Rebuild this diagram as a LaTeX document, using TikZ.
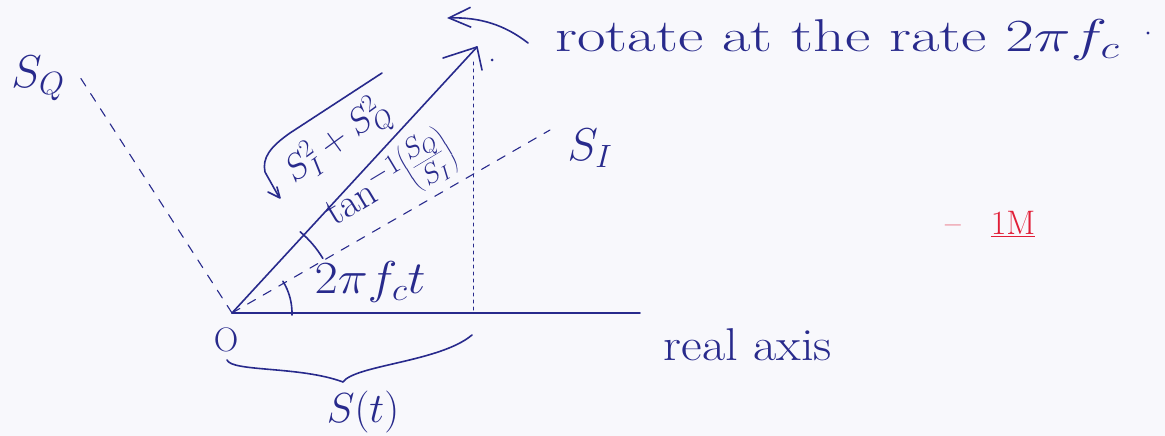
\RequirePackage{fix-cm}
\documentclass[tikz,border=0pt]{standalone}
\usepackage{graphicx}
\usetikzlibrary{arrows.meta,calc}
\definecolor{ink}{RGB}{40,42,140}
\definecolor{redink}{RGB}{225,30,55}
\definecolor{paper}{RGB}{248,248,252}
\begin{document}
\begin{tikzpicture}[x=1pt,y=1pt, line cap=round, line join=round,
  pen/.style={draw=ink, line width=1.6pt},
  dashline/.style={draw=ink, line width=1.1pt, dash pattern=on 9pt off 9pt},
  dotline/.style={draw=ink, line width=1pt, dash pattern=on 3pt off 4pt},
  lbl/.style={text=ink, inner sep=0pt},
  big/.style={font=\fontsize{46}{50}\selectfont},
  mid/.style={font=\fontsize{36}{40}\selectfont}]
\fill[paper] (0,0) rectangle (1165,-436);
\useasboundingbox (0,0) rectangle (1165,-436);
% key points
\coordinate (O) at (232,-313);
\coordinate (tip) at (477,-47);
\coordinate (barbA) at (443,-58);
\coordinate (barbB) at (482,-70);
\coordinate (xend) at (640,-313);
\coordinate (foot) at (473,-313);
\coordinate (top) at (473,-62);
\coordinate (siend) at (550,-130);
\coordinate (sqend) at (78,-74);
\coordinate (rotA) at (528,-43);
\coordinate (rotB) at (447,-18);
% axes and vector
\draw[pen] (O) -- (xend);
\draw[pen] (O) -- (tip);
\draw[pen] (barbA) -- (tip) -- (barbB);
\fill[ink] (492,-60) circle (1.5pt);
\draw[dotline] (top) -- (foot);
\draw[dashline] (O) -- (siend);
\draw[dashline] (O) -- (sqend);
% angle arcs
\draw[pen] ([shift={(32:60)}]O) arc[start angle=32, end angle=-2, radius=60];
\draw[pen] ([shift={(50:106)}]O) arc[start angle=50, end angle=31, radius=106];
% rotation arrow
\draw[pen, -{Straight Barb[length=22pt,width=20pt]}] (rotA) .. controls (505,-25) and (480,-17) .. (rotB);
% radical sign
\draw[pen] (382,-73) -- (290,-133) .. controls (270,-147) and (262,-158) .. (265,-172) -- (279,-197);
\draw[pen] (268,-192) -- (280,-198) -- (277,-187);
% brace
\draw[pen] (227,-360) .. controls (232,-372) and (300,-366) .. (343,-382)
  .. controls (355,-365) and (440,-362) .. (472,-335);
% labels
\node[lbl, anchor=west, big] (rot) at (555,-40) {\scalebox{1.35}[1]{rotate at the rate $2\pi f_c$}};
\fill[ink] (1148,-33) circle (1.6pt);
\node[lbl, big] (sq) at (38,-78) {$S_Q$};
\node[lbl, big] (si) at (590,-148) {$S_I$};
\node[lbl, mid, rotate=36] (mag) at (338,-142) {$S_I^2+S_Q^2$};
\node[lbl, font=\fontsize{40}{44}\selectfont, rotate=31] (ph) at (390,-182) {$\tan^{-1}\!\left(\frac{S_Q}{S_I}\right)$};
\node[lbl, big] (wt) at (370,-282) {\scalebox{1.1}[1]{$2\pi f_c t$}};
\node[lbl, font=\fontsize{34}{36}\selectfont] (o) at (226,-340) {O};
\node[lbl, font=\fontsize{42}{46}\selectfont] (st) at (363,-412) {$S(t)$};
\node[lbl, big] (ra) at (748,-345) {\scalebox{1.1}[1]{real axis}};
\node[text=redink, inner sep=0pt, font=\fontsize{34}{36}\selectfont, anchor=west] (mk) at (945,-224) {--\hspace{30pt}\underline{1M}};
\end{tikzpicture}
\end{document}
